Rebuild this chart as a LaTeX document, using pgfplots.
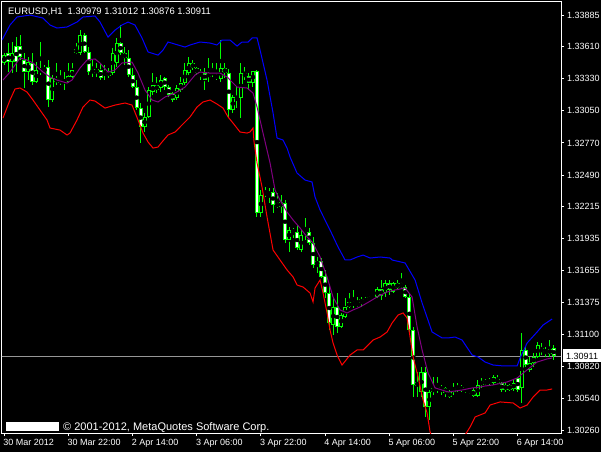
\documentclass[border=0pt]{standalone}
\usepackage{pgfplots}
\pgfplotsset{compat=1.18}
\usepackage{pgfplotstable}
\usepackage{fontspec}
\setmainfont{Liberation Sans}

\definecolor{mtgreen}{RGB}{0,255,0}
\definecolor{mtblue}{RGB}{0,0,255}
\definecolor{mtred}{RGB}{255,0,0}
\definecolor{mtpurple}{RGB}{128,0,128}
\definecolor{mtline}{RGB}{150,150,150}

% EURUSD H1 candles: index, open, high, low, close
\pgfplotstableread{
i o h l c
0 1.33467 1.33554 1.33449 1.33536
1 1.33554 1.33641 1.33388 1.33475
2 1.33475 1.33650 1.33379 1.33554
3 1.33615 1.33693 1.33388 1.33475
4 1.33615 1.33711 1.33493 1.33519
5 1.33493 1.33554 1.33249 1.33388
6 1.33388 1.33519 1.33318 1.33475
7 1.33467 1.33554 1.33275 1.33301
8 1.33301 1.33475 1.33292 1.33406
9 1.33406 1.33650 1.33362 1.33397
10 1.33397 1.33449 1.33379 1.33414
11 1.33432 1.33493 1.33083 1.33144
12 1.33144 1.33362 1.33127 1.33336
13 1.33336 1.33467 1.33275 1.33301
14 1.33292 1.33406 1.33275 1.33327
15 1.33318 1.33388 1.33231 1.33301
16 1.33301 1.33467 1.33292 1.33353
17 1.33345 1.33467 1.33336 1.33406
18 1.33554 1.33641 1.33545 1.33589
19 1.33554 1.33754 1.33536 1.33711
20 1.33711 1.33728 1.33554 1.33563
21 1.33563 1.33606 1.33362 1.33388
22 1.33379 1.33493 1.33345 1.33414
23 1.33414 1.33467 1.33345 1.33379
24 1.33406 1.33467 1.33318 1.33336
25 1.33362 1.33449 1.33318 1.33388
26 1.33397 1.33423 1.33336 1.33353
27 1.33379 1.33597 1.33362 1.33554
28 1.33467 1.33685 1.33432 1.33641
29 1.33641 1.33798 1.33536 1.33554
30 1.33554 1.33606 1.33449 1.33510
31 1.33510 1.33580 1.33345 1.33362
32 1.33362 1.33423 1.33249 1.33257
33 1.33257 1.33318 1.33057 1.33074
34 1.33074 1.33118 1.32769 1.32909
35 1.32909 1.33031 1.32865 1.32996
36 1.32996 1.33257 1.32987 1.33231
37 1.33214 1.33379 1.33188 1.33275
38 1.33275 1.33345 1.33205 1.33231
39 1.33249 1.33362 1.33214 1.33318
40 1.33336 1.33345 1.33231 1.33257
41 1.33257 1.33275 1.33170 1.33188
42 1.33205 1.33214 1.33127 1.33144
43 1.33161 1.33275 1.33144 1.33249
44 1.33231 1.33345 1.33214 1.33292
45 1.33292 1.33467 1.33275 1.33406
46 1.33379 1.33519 1.33362 1.33467
47 1.33467 1.33493 1.33406 1.33423
48 1.33423 1.33432 1.33362 1.33379
49 1.33388 1.33414 1.33318 1.33362
50 1.33379 1.33423 1.33231 1.33318
51 1.33345 1.33510 1.33301 1.33379
52 1.33388 1.33467 1.33345 1.33371
53 1.33362 1.33467 1.33318 1.33336
54 1.33327 1.33667 1.33301 1.33423
55 1.33423 1.33467 1.33336 1.33379
56 1.33379 1.33414 1.32987 1.33057
57 1.33057 1.33188 1.33031 1.33170
58 1.33144 1.33257 1.33074 1.33170
59 1.33161 1.33467 1.32987 1.33379
60 1.33379 1.33432 1.33318 1.33345
61 1.33353 1.33379 1.33231 1.33292
62 1.33292 1.33397 1.33257 1.33397
63 1.33397 1.33406 1.32124 1.32159
64 1.32159 1.32359 1.32124 1.32316
65 1.32316 1.32385 1.32298 1.32342
66 1.32342 1.32377 1.32246 1.32316
67 1.32342 1.32377 1.32159 1.32228
68 1.32211 1.32333 1.32202 1.32246
69 1.32255 1.32316 1.32159 1.32211
70 1.32246 1.32272 1.31897 1.31923
71 1.31923 1.32037 1.31819 1.32010
72 1.32010 1.32028 1.31941 1.31993
73 1.31993 1.32054 1.31836 1.31853
74 1.31836 1.32010 1.31819 1.31967
75 1.31967 1.32115 1.31923 1.31993
76 1.31993 1.32028 1.31880 1.31897
77 1.31897 1.31950 1.31679 1.31705
78 1.31705 1.31775 1.31635 1.31740
79 1.31740 1.31766 1.31592 1.31601
80 1.31609 1.31662 1.31417 1.31461
81 1.31461 1.31531 1.31138 1.31199
82 1.31182 1.31417 1.31095 1.31339
83 1.31339 1.31461 1.31112 1.31165
84 1.31165 1.31287 1.31156 1.31269
85 1.31252 1.31417 1.31243 1.31339
86 1.31339 1.31461 1.31330 1.31383
87 1.31383 1.31487 1.31330 1.31356
88 1.31356 1.31426 1.31339 1.31374
89 1.31374 1.31426 1.31339 1.31409
90 1.31409 1.31426 1.31374 1.31383
91 1.31400 1.31435 1.31383 1.31426
92 1.31426 1.31444 1.31400 1.31417
93 1.31426 1.31513 1.31417 1.31496
94 1.31496 1.31574 1.31400 1.31435
95 1.31461 1.31574 1.31426 1.31548
96 1.31548 1.31574 1.31444 1.31487
97 1.31470 1.31557 1.31461 1.31548
98 1.31548 1.31574 1.31487 1.31505
99 1.31513 1.31635 1.31505 1.31548
100 1.31513 1.31531 1.31417 1.31426
101 1.31426 1.31461 1.31095 1.31138
102 1.31138 1.31165 1.30554 1.30659
103 1.30650 1.30772 1.30554 1.30685
104 1.30598 1.30816 1.30554 1.30772
105 1.30772 1.30816 1.30380 1.30467
106 1.30467 1.30615 1.30354 1.30598
107 1.30598 1.30729 1.30572 1.30633
108 1.30615 1.30729 1.30589 1.30641
109 1.30641 1.30659 1.30572 1.30615
110 1.30633 1.30641 1.30554 1.30589
111 1.30554 1.30615 1.30545 1.30598
112 1.30598 1.30676 1.30572 1.30633
113 1.30624 1.30676 1.30598 1.30641
114 1.30641 1.30659 1.30598 1.30615
115 1.30615 1.30641 1.30589 1.30633
116 1.30615 1.30624 1.30580 1.30598
117 1.30615 1.30633 1.30554 1.30563
118 1.30563 1.30702 1.30554 1.30659
119 1.30659 1.30720 1.30633 1.30694
120 1.30694 1.30711 1.30659 1.30676
121 1.30676 1.30720 1.30659 1.30702
122 1.30676 1.30746 1.30659 1.30729
123 1.30711 1.30746 1.30668 1.30676
124 1.30676 1.30685 1.30598 1.30615
125 1.30615 1.30676 1.30598 1.30659
126 1.30659 1.30668 1.30607 1.30615
127 1.30624 1.30702 1.30607 1.30676
128 1.30720 1.30729 1.30598 1.30615
129 1.30633 1.31112 1.30502 1.30964
130 1.30964 1.30990 1.30816 1.30833
131 1.30790 1.30903 1.30772 1.30851
132 1.30851 1.30938 1.30816 1.30903
133 1.30903 1.31034 1.30894 1.31008
134 1.30981 1.31025 1.30920 1.30947
135 1.30938 1.30990 1.30903 1.30964
136 1.30929 1.31051 1.30903 1.30973
137 1.30979 1.31012 1.30876 1.30911
}\candles

% upper band (blue)
\pgfplotstableread{
x y
-0.57 1.33667
1.42 1.33798
3.17 1.33868
6.41 1.33885
9.65 1.33859
11.40 1.33798
13.14 1.33772
15.64 1.33781
18.13 1.33824
19.63 1.33868
22.62 1.33877
23.87 1.33824
25.86 1.33693
27.61 1.33754
29.35 1.33798
30.85 1.33824
32.59 1.33798
34.34 1.33685
35.84 1.33563
38.33 1.33536
39.58 1.33580
40.82 1.33650
43.32 1.33624
45.06 1.33606
46.31 1.33624
48.80 1.33650
51.30 1.33641
53.04 1.33624
54.29 1.33667
56.28 1.33667
58.03 1.33615
59.28 1.33650
60.77 1.33650
61.77 1.33685
63.02 1.33685
63.77 1.33580
65.51 1.33318
67.01 1.33031
68.00 1.32813
69.50 1.32795
70.50 1.32725
71.25 1.32647
72.99 1.32507
74.99 1.32446
76.73 1.32429
77.48 1.32298
78.73 1.32185
81.22 1.32010
83.22 1.31862
84.96 1.31749
86.21 1.31749
87.96 1.31775
89.45 1.31792
91.20 1.31766
93.69 1.31775
96.18 1.31766
96.68 1.31749
99.93 1.31723
102.42 1.31574
104.17 1.31374
106.66 1.31121
109.16 1.31069
110.65 1.31069
112.40 1.31077
114.14 1.31051
116.64 1.30920
118.13 1.30903
119.88 1.30859
121.87 1.30833
124.36 1.30825
127.86 1.30825
128.60 1.30894
130.35 1.31025
132.84 1.31121
134.34 1.31182
136.58 1.31234
}\bandup

% lower band (red)
\pgfplotstableread{
x y
-0.32 1.32987
1.42 1.33144
2.67 1.33240
3.92 1.33249
5.66 1.33214
7.16 1.33144
8.90 1.33057
10.65 1.32970
11.40 1.32900
13.89 1.32882
15.64 1.32839
16.38 1.32856
18.13 1.32970
19.63 1.33083
21.37 1.33144
22.62 1.33135
25.11 1.33074
27.61 1.33100
30.10 1.33118
31.85 1.33100
33.34 1.32970
34.59 1.32856
35.84 1.32778
37.08 1.32725
38.33 1.32734
39.33 1.32778
40.82 1.32839
42.57 1.32865
44.31 1.32926
46.31 1.32996
48.05 1.33083
49.55 1.33127
51.30 1.33144
53.04 1.33109
54.54 1.33074
55.79 1.32996
57.03 1.32943
58.78 1.32865
60.52 1.32856
61.27 1.32865
62.02 1.32900
62.27 1.32778
63.02 1.32595
64.26 1.32385
65.51 1.32124
67.01 1.31836
68.75 1.31749
70.50 1.31662
72.00 1.31601
72.99 1.31531
74.49 1.31513
76.23 1.31461
76.98 1.31383
77.48 1.31505
78.73 1.31574
79.48 1.31461
80.47 1.31287
81.22 1.31138
81.97 1.31025
82.97 1.30920
84.21 1.30833
86.21 1.30920
87.96 1.30964
89.45 1.30964
91.94 1.31051
93.69 1.31077
95.44 1.31121
96.68 1.31199
98.18 1.31269
99.43 1.31287
100.42 1.31243
101.17 1.31077
101.92 1.30903
103.17 1.30729
104.41 1.30528
105.41 1.30415
106.16 1.30249
107.91 1.30075
109.90 1.30005
112.40 1.30048
114.89 1.30223
116.14 1.30293
117.39 1.30380
119.88 1.30415
121.12 1.30484
123.62 1.30511
126.86 1.30502
128.60 1.30458
130.35 1.30484
131.85 1.30554
133.59 1.30615
135.34 1.30615
136.58 1.30624
}\banddn

% middle line (purple)
\pgfplotstableread{
x y
-0.32 1.33318
1.42 1.33388
3.92 1.33510
5.66 1.33493
7.16 1.33467
9.65 1.33388
11.40 1.33345
13.14 1.33318
15.64 1.33292
16.88 1.33318
18.88 1.33423
20.62 1.33493
22.62 1.33502
23.87 1.33467
25.86 1.33388
27.61 1.33406
29.35 1.33467
31.85 1.33475
33.34 1.33379
35.09 1.33231
36.83 1.33144
38.33 1.33127
40.07 1.33170
42.57 1.33205
45.06 1.33257
47.56 1.33362
48.80 1.33388
51.30 1.33379
53.79 1.33379
55.54 1.33345
58.03 1.33257
60.52 1.33249
62.02 1.33205
63.02 1.33083
64.51 1.32856
66.26 1.32595
67.51 1.32359
68.75 1.32272
70.50 1.32167
72.00 1.32098
73.74 1.32028
75.49 1.31950
76.98 1.31897
78.73 1.31775
80.47 1.31601
81.97 1.31426
83.72 1.31313
85.46 1.31287
86.96 1.31313
88.70 1.31339
90.45 1.31374
92.94 1.31426
95.44 1.31470
97.43 1.31487
99.93 1.31505
101.67 1.31426
102.92 1.31165
104.17 1.30964
105.66 1.30763
107.41 1.30633
110.65 1.30598
114.14 1.30615
116.64 1.30633
118.63 1.30641
119.88 1.30650
121.87 1.30659
125.36 1.30685
127.86 1.30720
130.35 1.30790
132.84 1.30859
135.34 1.30886
136.58 1.30894
}\bandmid

\begin{document}
\begin{tikzpicture}[x=1pt,y=1pt]
\fill[black] (-2,-19) rectangle (599,433);
\begin{axis}[
  at={(0,0)}, anchor=south west,
  scale only axis, width=559pt, height=431pt,
  xmin=-0.57, xmax=138.8,
  ymin=1.30240, ymax=1.33999,
  clip mode=individual,
  axis line style={white, line width=1pt},
  tick align=outside,
  major tick length=3pt,
  tick style={white, line width=1pt},
  xtick pos=left, ytick pos=right,
  yticklabel pos=right,
  scaled y ticks=false,
  xtick={0,16,32,48,64,80,96,112,128},
  xticklabels={30 Mar 2012,30 Mar 22:00,2 Apr 14:00,3 Apr 06:00,3 Apr 22:00,4 Apr 14:00,5 Apr 06:00,5 Apr 22:00,6 Apr 14:00},
  ytick={1.30260,1.30540,1.30820,1.31100,1.31375,1.31655,1.31935,1.32215,1.32490,1.32770,1.33050,1.33330,1.33610,1.33885},
  yticklabels={1.30260,1.30540,1.30820,1.31100,1.31375,1.31655,1.31935,1.32215,1.32490,1.32770,1.33050,1.33330,1.33610,1.33885},
  tick label style={text=white, font=\fontsize{9}{10}\selectfont},
  xticklabel style={anchor=north west, inner sep=0pt, yshift=-3pt, xshift=-1pt},
  yticklabel style={anchor=west, inner sep=0pt, xshift=3pt},
]

% last price line
\addplot[mtline, line width=0.8pt, forget plot] coordinates {(-1,1.30911) (140,1.30911)};

% wicks
\addplot[only marks, mark=none, forget plot,
  error bars/.cd, y dir=both, y explicit, error mark=none,
  error bar style={mtgreen, line width=1pt}]
  table[x=i, y expr={(\thisrow{h}+\thisrow{l})/2}, y error expr={(\thisrow{h}-\thisrow{l})/2}] {\candles};

% bodies, outline colour
\addplot[only marks, mark=none, forget plot,
  error bars/.cd, y dir=both, y explicit, error mark=none,
  error bar style={mtgreen, line width=4pt}]
  table[x=i, y expr={(\thisrow{o}+\thisrow{c})/2}, y error expr={max(abs(\thisrow{o}-\thisrow{c})/2,0.00009)}] {\candles};

% bear bodies: white inside
\addplot[only marks, mark=none, forget plot,
  restrict expr to domain={\thisrow{o}-\thisrow{c}}{0.00001:1},
  error bars/.cd, y dir=both, y explicit, error mark=none,
  error bar style={white, line width=2pt}]
  table[x=i, y expr={(\thisrow{o}+\thisrow{c})/2}, y error expr={max(abs(\thisrow{o}-\thisrow{c})/2-0.0000872,0)}] {\candles};

% bull bodies: black inside
\addplot[only marks, mark=none, forget plot,
  restrict expr to domain={\thisrow{c}-\thisrow{o}}{0.00001:1},
  error bars/.cd, y dir=both, y explicit, error mark=none,
  error bar style={black, line width=2pt}]
  table[x=i, y expr={(\thisrow{o}+\thisrow{c})/2}, y error expr={max(abs(\thisrow{o}-\thisrow{c})/2-0.0000872,0)}] {\candles};

\addplot[mtblue, line width=1pt] table[x=x, y=y] {\bandup};
\addplot[mtred, line width=1pt] table[x=x, y=y] {\banddn};
\addplot[mtpurple, line width=1pt] table[x=x, y=y] {\bandmid};
\end{axis}

% header and footer texts
\node[anchor=base west, inner sep=0pt, text=white, font=\fontsize{9.4}{10}\selectfont] at (6,418) {EURUSD,H1\ \ 1.30979 1.31012 1.30876 1.30911};
\fill[white] (4,2) rectangle (57,11);
\node[anchor=base west, inner sep=0pt, text=white, font=\fontsize{11}{12}\selectfont] at (61,3) {\textcopyright\ 2001-2012, MetaQuotes Software Corp.};
% last price tag
\fill[white] (561,71) rectangle (599,84);
\node[anchor=base west, inner sep=0pt, text=black, font=\fontsize{9}{10}\selectfont] at (564,74) {1.30911};

\pgfresetboundingbox
\useasboundingbox (-2,-19) rectangle (599,433);
\end{tikzpicture}
\end{document}
